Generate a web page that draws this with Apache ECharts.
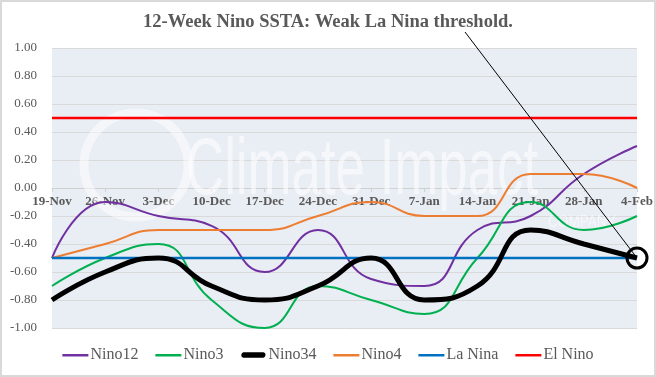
<!DOCTYPE html>
<html>
<head>
<meta charset="utf-8">
<script src="https://cdn.jsdelivr.net/npm/echarts@6/dist/echarts.min.js"></script>
<style>
html, body { margin: 0; padding: 0; background: #fff; }
#wrap { position: relative; width: 656px; height: 377px; }
#chart { width: 656px; height: 377px; }
#frame { position: absolute; left: 0; top: 0; width: 656px; height: 377px; box-sizing: border-box; border: 2px solid #d9d9d9; pointer-events: none; }
</style>
</head>
<body>
<div id="wrap">
  <div id="chart"></div>
  <div id="frame"></div>
</div>
<script>
// weeks on the x axis
const weeks = ['19-Nov', '26-Nov', '3-Dec', '10-Dec', '17-Dec', '24-Dec', '31-Dec', '7-Jan', '14-Jan', '21-Jan', '28-Jan', '4-Feb'];

// SSTA values
const nino12 = [-0.5, -0.1, -0.2, -0.27, -0.6, -0.3, -0.65, -0.7, -0.3, -0.2, 0.1, 0.3];
const nino3  = [-0.7, -0.5, -0.4, -0.8, -1.0, -0.7, -0.8, -0.9, -0.5, -0.1, -0.3, -0.2];
const nino34 = [-0.8, -0.6, -0.5, -0.7, -0.8, -0.7, -0.5, -0.8, -0.7, -0.3, -0.4, -0.5];
const nino4  = [-0.5, -0.4, -0.3, -0.3, -0.3, -0.2, -0.1, -0.2, -0.2, 0.1, 0.1, 0.0];
const laNina = [-0.5, -0.5, -0.5, -0.5, -0.5, -0.5, -0.5, -0.5, -0.5, -0.5, -0.5, -0.5];
const elNino = [0.5, 0.5, 0.5, 0.5, 0.5, 0.5, 0.5, 0.5, 0.5, 0.5, 0.5, 0.5];

const serif = '"Liberation Serif", "DejaVu Serif", serif';
const grey = '#595959';

// legend icons: thin line and thick line, same box so spacing stays even
const thinIcon = 'path://M0,0 M0,2 L26,2 L26,4.5 L0,4.5 Z M26,6';
const thickIcon = 'path://M0,0 M3,0.3 L23,0.3 A2.8,2.8 0 0 1 23,5.7 L3,5.7 A2.8,2.8 0 0 1 3,0.3 Z M26,6';

const gridTop = 48;
const gridBottom = 49;
const gridHeight = 377 - gridTop - gridBottom;

function line(name, data, color, width, extra) {
  return Object.assign({
    name: name,
    type: 'line',
    data: data,
    smooth: true,
    symbol: 'none',
    lineStyle: { color: color, width: width },
    itemStyle: { color: color }
  }, extra || {});
}

const myChart = echarts.init(document.getElementById('chart'));
const option = {
  animation: false,
  title: {
    text: '12-Week Nino SSTA: Weak La Nina threshold.',
    left: 'center',
    top: 8,
    textStyle: { fontFamily: serif, fontSize: 18.5, fontWeight: 'bold', color: grey }
  },
  legend: {
    bottom: 9,
    left: 'center',
    itemWidth: 26,
    itemHeight: 6,
    itemGap: 17,
    textStyle: { fontFamily: serif, fontSize: 16, color: grey, padding: [0, 0, 0, -3] },
    data: [
      { name: 'Nino12', icon: thinIcon },
      { name: 'Nino3', icon: thinIcon },
      { name: 'Nino34', icon: thickIcon },
      { name: 'Nino4', icon: thinIcon },
      { name: 'La Nina', icon: thinIcon },
      { name: 'El Nino', icon: thinIcon }
    ]
  },
  grid: {
    left: 52,
    right: 19,
    top: gridTop,
    bottom: gridBottom,
    show: true,
    backgroundColor: '#e9edf4',
    borderWidth: 0
  },
  // faint watermark behind the lines
  graphic: [
    {
      type: 'text',
      z: 1,
      x: 186,
      y: 132,
      scaleX: 0.66,
      style: { text: 'Climate Impact', fontFamily: '"Liberation Sans", sans-serif', fontSize: 80, fill: 'rgba(255,255,255,0.55)' }
    },
    {
      type: 'text',
      z: 1,
      x: 548,
      y: 214,
      scaleX: 0.8,
      style: { text: 'COMPANY', fontFamily: '"Liberation Sans", sans-serif', fontSize: 17, fill: 'rgba(255,255,255,0.55)' }
    },
    {
      type: 'circle',
      z: 1,
      shape: { cx: 136, cy: 165, r: 52 },
      style: { fill: 'none', stroke: 'rgba(255,255,255,0.5)', lineWidth: 9 }
    }
  ],
  xAxis: {
    type: 'category',
    data: weeks,
    boundaryGap: false,
    // put the axis on the zero line (middle of the -1..1 range)
    offset: -gridHeight / 2,
    axisLine: { onZero: true, lineStyle: { color: '#d0d0d0', width: 1 } },
    axisTick: { show: true, length: 4, lineStyle: { color: '#d0d0d0' } },
    axisLabel: { fontFamily: serif, fontSize: 13, fontWeight: 'bold', color: grey, margin: 7 }
  },
  yAxis: {
    type: 'value',
    min: -1,
    max: 1,
    interval: 0.2,
    axisLine: { show: false },
    axisTick: { show: false },
    splitLine: { lineStyle: { color: '#d9d9d9', width: 1 } },
    axisLabel: {
      fontFamily: serif, fontSize: 13, color: grey, margin: 15,
      formatter: function (v) { return v.toFixed(2); }
    }
  },
  series: [
    line('Nino12', nino12, '#7030a0', 2),
    line('Nino3', nino3, '#00b050', 2),
    line('Nino34', nino34, '#000000', 5, {
      z: 4,
      markPoint: {
        symbol: 'circle',
        symbolSize: 20,
        silent: true,
        label: { show: false },
        itemStyle: { color: 'rgba(0,0,0,0)', borderColor: '#000', borderWidth: 3 },
        data: [{ coord: [11, -0.5] }]
      },
      markLine: {
        symbol: 'none',
        silent: true,
        label: { show: false },
        lineStyle: { color: '#000', width: 1, type: 'solid' },
        data: [[{ x: 465, y: 32 }, { coord: [11, -0.5] }]]
      }
    }),
    line('Nino4', nino4, '#ed7d31', 2),
    line('La Nina', laNina, '#0070c0', 2.5, { smooth: false }),
    line('El Nino', elNino, '#ff0000', 2.5, { smooth: false })
  ]
};
myChart.setOption(option);
</script>
</body>
</html>
